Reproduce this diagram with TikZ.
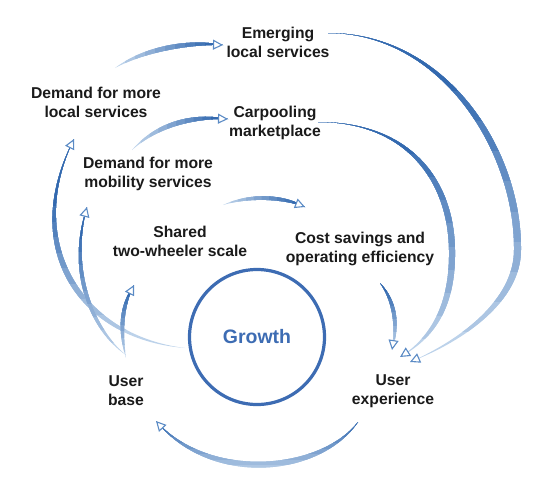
\documentclass[tikz,border=0pt]{standalone}
\usepackage{fontspec}
\setmainfont{Liberation Sans}
\usetikzlibrary{arrows.meta, calc}
\definecolor{cdark}{HTML}{2B63AC}
\definecolor{clight}{HTML}{C4D8ED}
\definecolor{cring}{HTML}{3D6CB3}
\definecolor{ctip}{HTML}{5B8BC5}
\definecolor{ctext}{HTML}{1A1A1A}
\tikzset{
  lbl/.style={text=ctext, align=center, inner sep=0pt, font=\bfseries\fontsize{15.7}{19}\selectfont},
  tipline/.style={draw=ctip, line width=1.1pt, -{Triangle[fill=white, length=10pt, width=10pt]}},
}
% colour steps along one axis: v or h, dark end, light end (lightest first)
\newcommand{\flshade}[3]{%
  \foreach \k in {0,...,9} {
    \ifnum\k=0 \pgfmathsetmacro\flb{#3+(#3-#2)*2}%
    \else \pgfmathsetmacro\flb{#3-(#3-#2)*\k/10}\fi
    \pgfmathsetmacro\fle{#2-(#3-#2)*2}
    \pgfmathtruncatemacro\flp{100*(9.5-\k)/10}
    \begin{scope}
      \if#1v \clip (-50,\flb) rectangle (600,\fle); \else \clip (\flb,-50) rectangle (\fle,530); \fi
      \fill[clight!\flp!cdark] \flpath;
    \end{scope}
  }
}
% tapered arrow: tail, c1, c2, head, offset, axis, dark end, light end
\newcommand{\flowone}[8]{%
  \path (#1) coordinate (fl-t) (#4) coordinate (fl-h);
  \def\flpath{(fl-t) .. controls (#2) and (#3) .. (fl-h)
    .. controls ($(#3)+(#5)$) and ($(#2)+(#5)$) .. (fl-t) -- cycle}
  \flshade{#6}{#7}{#8}
  \draw[tipline] ($(fl-h)!9pt!(#3)$) -- (fl-h);
}
% tapered arrow in two pieces: tail, c1, c2, mid, c3, c4, head, offset, dark end (light end below)
\newcommand{\flowtwo}[9]{%
  \path (#1) coordinate (fl-t) (#7) coordinate (fl-h);
  \def\flpath{(fl-t) .. controls (#2) and (#3) .. (#4) .. controls (#5) and (#6) .. (fl-h)
    .. controls ($(#6)+(#8)$) and ($(#5)+(#8)$) .. ($(#4)+(#8)$)
    .. controls ($(#3)+(#8)$) and ($(#2)+(#8)$) .. (fl-t) -- cycle}
  \flshade{v}{#9}{362}
  \draw[tipline] ($(fl-h)!9pt!(#6)$) -- (fl-h);
}

\begin{document}
\begin{tikzpicture}[x=1pt, y=-1pt]
  \useasboundingbox (0,0) rectangle (554,479);
  % labels round the loop
  \node[lbl] (el) at (278,42) {Emerging\\local services};
  \node[lbl] (dl) at (96,102) {Demand for more\\local services};
  \node[lbl] (cp) at (275,123) {Carpooling\\marketplace};
  \node[lbl] (dm) at (148,174) {Demand for more\\mobility services};
  \node[lbl] (sh) at (180,241) {Shared\\two-wheeler scale};
  \node[lbl] (cs) at (360,249) {Cost savings and\\operating efficiency};
  \node[lbl] (ub) at (126,391) {User\\base};
  \node[lbl] (ux) at (393,391) {User\\experience};
  % centre
  \node[circle, draw=cring, line width=3.2pt, minimum size=135pt, text=cring,
    font=\bfseries\fontsize{19.5}{22}\selectfont] (gr) at (257,337) {Growth};
  % left side
  \flowone{$(gr)+(-72,11)$}{80,335}{25,240}{$(dl)+(-22,37)$}{-6,4}{v}{190}{345}
  \flowone{$(ub)+(0,-36)$}{95,330}{70,270}{$(dm)+(-61,33)$}{-5,1}{v}{225}{355}
  \flowone{$(ub)+(0,-33)$}{122,330}{124,305}{$(sh)+(-46,44)$}{-5,0}{v}{290}{358}
  % top
  \flowone{$(dl)+(19,-34)$}{145,52}{190,44}{$(el)+(-55,3)$}{-1,-6}{h}{215}{115}
  \flowone{$(dm)+(-16,-24)$}{158,127}{195,118}{$(cp)+(-47,-4)$}{-1.5,-6}{h}{220}{132}
  \flowone{$(dm)+(75,31)$}{250,197}{285,199}{$(cs)+(-55,-42)$}{0,-5}{h}{300}{223}
  % right side
  \flowtwo{$(el)+(50,-9)$}{440,33}{515,150}{514,250}{514,300}{460,340}{$(ux)+(17,-29)$}{7,0}{60}
  \flowtwo{$(cp)+(43,-1)$}{405,122}{448,180}{449,250}{450,305}{430,338}{$(ux)+(7,-34)$}{6,0}{130}
  \flowone{$(cs)+(20,34)$}{392,300}{396,325}{$(ux)+(-1,-41)$}{5,0}{v}{285}{352}
  % bottom
  \flowone{$(ux)+(-35,31)$}{320,470}{210,480}{$(ub)+(30,30)$}{0,8}{v}{420}{476}
\end{tikzpicture}
\end{document}
